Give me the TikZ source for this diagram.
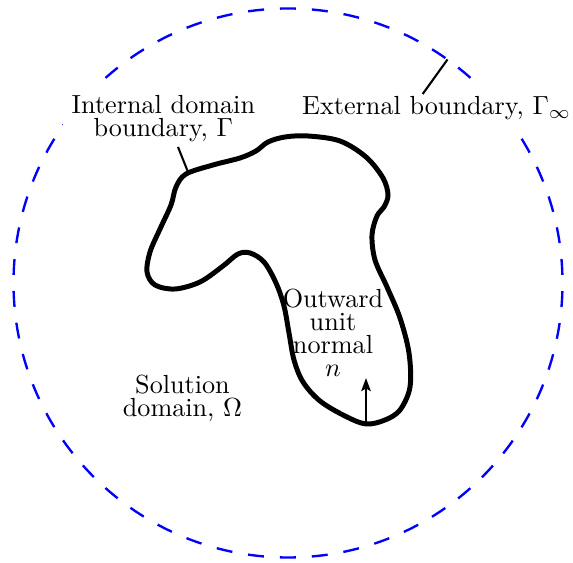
\documentclass[tikz,border=0pt]{standalone}
\usetikzlibrary{arrows.meta}
\begin{document}
\begin{tikzpicture}[x=0.382pt,y=-0.382pt,
  lbl/.style={font=\fontsize{10pt}{8.8pt}\selectfont, align=center, inner sep=3.33pt},
  boxlbl/.style={lbl, fill=white},
  outer/.style={draw=blue, line width=0.9pt, dash pattern=on 6.1pt off 6.1pt, dash phase=9.1pt},
  body/.style={draw=black, line width=1.9pt},
  pointer/.style={draw=black, line width=0.8pt},
  normalarrow/.style={draw=black, line width=0.8pt, -{Stealth[length=5pt,width=3.6pt,inset=1pt]}}]
\useasboundingbox (0,0) rectangle (573,563);
% external boundary
\coordinate (C) at (288,283);
\draw[outer] (C) circle[radius=104.86pt];
% labels
\node[boxlbl] (internal) at (163.4,118.8) {Internal domain\\boundary, $\Gamma$};
\node[boxlbl] (external) at (436.7,108.5) {External boundary, $\Gamma_\infty$};
\node[lbl] (solution) at (182.5,398.3) {Solution\\domain, $\Omega$};
\node[lbl] (outward) at (333,332.6) {Outward\\unit\\normal\\$n$};
% body
\draw[body] plot[smooth cycle, tension=0.55] coordinates {
(186,174) (213,165) (240,158) (256,151) (268,142) (285,137) (308,136)
(340,141) (366,157) (383,178) (388,195) (384,207) (377,216) (372,235)
(375,260) (387,287) (400,318) (409,353) (410,387) (400,410) (385,420)
(366,424) (345,416) (320,401) (303,382) (294,360) (289,333) (284,306)
(276,283) (264,262) (250,253) (238,254) (223,266) (200,282) (175,289)
(155,285) (147,272) (150,252) (160,229) (171,205) (176,187)};
% pointers
\coordinate (intA) at (178,147);
\coordinate (intB) at (188,172);
\draw[pointer] (intA) -- (intB);
\coordinate (extA) at (422.7,94);
\coordinate (extB) at (447.5,59.5);
\draw[pointer] (extA) -- (extB);
% normal arrow
\coordinate (nA) at (366,423);
\coordinate (nB) at (366,378);
\draw[normalarrow] (nA) -- (nB);
\end{tikzpicture}
\end{document}
